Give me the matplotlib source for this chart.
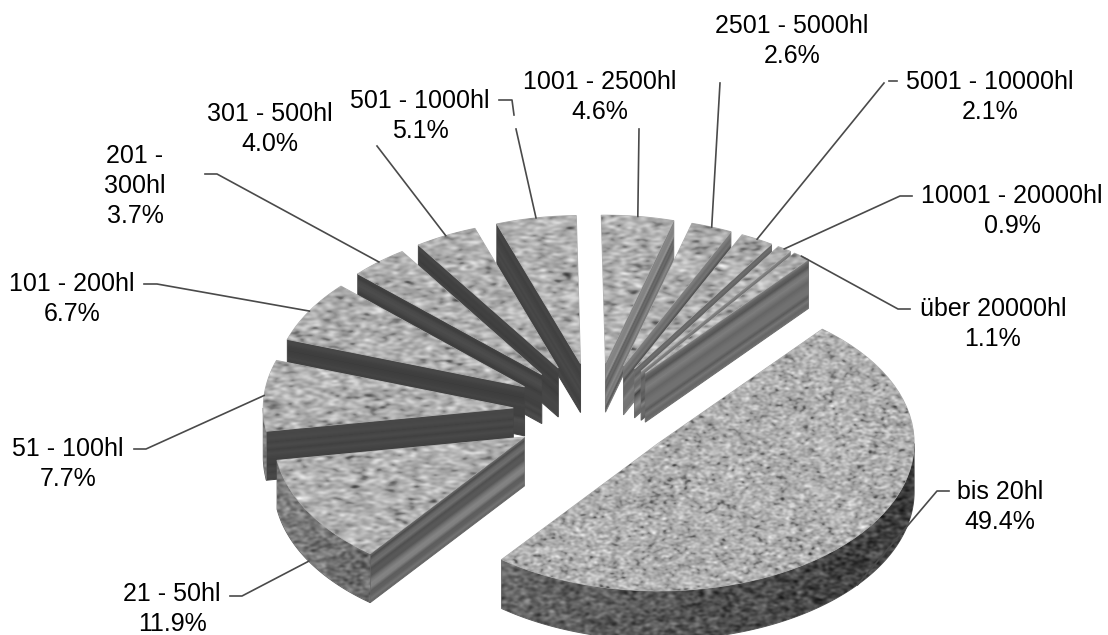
import numpy as np
import matplotlib
matplotlib.use("Agg")
import matplotlib.pyplot as plt
from matplotlib.patches import Polygon

plt.rcParams['font.family'] = ['Liberation Sans', 'DejaVu Sans']

names = ['bis 20hl', '21 - 50hl', '51 - 100hl', '101 - 200hl', '201 -\n300hl', '301 - 500hl',
         '501 - 1000hl', '1001 - 2500hl', '2501 - 5000hl', '5001 - 10000hl',
         '10001 - 20000hl', 'über 20000hl']
shares = [49.4, 11.9, 7.7, 6.7, 3.7, 4.0, 5.1, 4.6, 2.6, 2.1, 0.9, 1.1]

# pie geometry in pixels
W, H = 1108, 635
start_deg = 39.8
cx, cy = 595, 412
explode = 82
squash = 0.6
rx, ry = 253, 148
depth = 49

# label centres and leader elbows, same order as names
nan = float('nan')
label_pos = [(1000, 507), (172, 609), (68, 464), (72, 299), (135, 186), (270, 129),
             (420, 116), (600, 97), (792, 41), (990, 97), (1012, 211), (993, 324)]
elbows = [[(949, 491), (937, 491)], [(230, 596), (242, 596)], [(134, 449), (146, 449)],
          [(144, 284), (157, 284)], [(205, 174), (217, 174)], [(377, 146)],
          [(499, 100), (512, 100), (514, 115), (nan, nan), (516, 129)], [(639, 129)], [(720, 83)],
          [(897, 81), (889, 81), (nan, nan), (884, 83)],
          [(912, 196), (900, 196)], [(910, 309), (898, 309)]]

rng = np.random.default_rng(12)


def blurred_noise(h, w, sx, sy):
    # gaussian smoothing in the frequency domain, scaled back to unit variance
    z = rng.standard_normal((h, w))
    fy = np.fft.fftfreq(h)[:, None]
    fx = np.fft.rfftfreq(w)[None, :]
    kernel = np.exp(-2 * np.pi ** 2 * ((fx * sx) ** 2 + (fy * sy) ** 2))
    out = np.fft.irfft2(np.fft.rfft2(z) * kernel, s=(h, w))
    return out / out.std()


def bounds(pts):
    x0 = int(np.floor(pts[:, 0].min())) - 1
    x1 = int(np.ceil(pts[:, 0].max())) + 1
    y0 = int(np.floor(pts[:, 1].min())) - 1
    y1 = int(np.ceil(pts[:, 1].max())) + 1
    return x0, x1, y0, y1


def draw_textured(ax, pts, img, box, edge):
    poly = Polygon(pts, closed=True, facecolor='none', edgecolor=edge, lw=0.7, zorder=3)
    ax.add_patch(poly)
    x0, x1, y0, y1 = box
    im = ax.imshow(np.clip(img, 0, 255), cmap='gray', vmin=0, vmax=255, extent=(x0, x1, y1, y0),
                   origin='upper', aspect='auto', interpolation='bilinear', zorder=3)
    im.set_clip_path(poly)


def rim(apex, a, b, n=60):
    t = np.radians(np.linspace(a, b, n))
    # slices on the right sit a little nearer and come out slightly wider
    r = rx + 3 * np.sin(np.radians((a + b) / 2))
    return np.column_stack([apex[0] + r * np.sin(t), apex[1] - ry * np.cos(t)])


def flat_wall(ax, apex, tip_deg, span, normal_deg):
    # straight cut face, stripes run along the radial edge
    tip = rim(apex, span[0], span[1], 60)[0 if tip_deg == span[0] else -1]
    pts = np.array([apex, tip, tip + (0, depth), np.array(apex) + (0, depth)])
    x0, x1, y0, y1 = box = bounds(pts)
    xx, yy = np.meshgrid(np.arange(x0, x1) + 0.5, np.arange(y0, y1) + 0.5)
    slope = (tip[1] - apex[1]) / (tip[0] - apex[0])
    t = (yy - (apex[1] + (xx - apex[0]) * slope)) / depth
    lit = max(0.0, np.sin(np.radians(normal_deg)) - 0.14) / 0.82
    base = 68 + 50 * lit
    stripes = rng.standard_normal(14)
    stripes = np.interp(np.clip(t, 0, 1) * 13, np.arange(14), stripes)
    img = base + stripes * (4 + 13 * lit)
    draw_textured(ax, pts, img, box, (base / 255,) * 3)


def outer_wall(ax, apex, a, b):
    lo, hi = max(a, 90), min(b, 270)
    r = rim(apex, a, b, 400)
    angles = np.linspace(a, b, 400)
    top = r[(angles >= lo) & (angles <= hi)]
    pts = np.vstack([top, (top + (0, depth))[::-1]])
    x0, x1, y0, y1 = box = bounds(pts)
    xx = np.arange(x0, x1) + 0.5
    u = (xx - apex[0]) / rx
    shade = np.interp(u, [-1, -0.63, 0, 0.6, 1], [128, 106, 84, 70, 62])
    noise = blurred_noise(y1 - y0, x1 - x0, 1.8, 1.2)
    img = shade[None, :] + noise * 14
    draw_textured(ax, pts, img, box, (0.38, 0.38, 0.38))


def top_face(ax, apex, a, b):
    pts = np.vstack([[apex], rim(apex, a, b)])
    x0, x1, y0, y1 = box = bounds(pts)
    big = (b - a) > 90
    noise = blurred_noise(y1 - y0, x1 - x0, 1.5 if big else 2.6, 1.0 if big else 1.2)
    img = 174 + noise * 16 - 18 * np.clip(-noise - 1.3, 0, None)
    draw_textured(ax, pts, img, box, (0.68, 0.68, 0.68))


fig = plt.figure(figsize=(W / 100, H / 100), dpi=100)
ax = fig.add_axes([0, 0, 1, 1])

fracs = np.array(shares) / sum(shares)
ends = start_deg + 360 * np.cumsum(fracs)
starts = ends - 360 * fracs
mids = (starts + ends) / 2
apexes = np.column_stack([cx + explode * np.sin(np.radians(mids)),
                          cy - explode * squash * np.cos(np.radians(mids))])

# back slices first so nearer ones cover them
for i in np.argsort(-np.cos(np.radians(mids))):
    a, b = starts[i], ends[i]
    apex = apexes[i]
    if np.sin(np.radians(a)) < -0.05:
        flat_wall(ax, apex, a, (a, b), a - 90)
    if np.sin(np.radians(b)) > 0.05:
        flat_wall(ax, apex, b, (a, b), b + 90)
    if a < 270 and b > 90:
        outer_wall(ax, apex, a, b)
    top_face(ax, apex, a, b)

# leaders run from the label to the middle of each slice rim
for i, name in enumerate(names):
    r = rx + 3 * np.sin(np.radians(mids[i]))
    t = np.radians(mids[i])
    anchor = (apexes[i][0] + r * np.sin(t), apexes[i][1] - ry * np.cos(t))
    if 90 < mids[i] % 360 < 270:
        anchor = (anchor[0], anchor[1] + depth)
    line = np.array(elbows[i] + [anchor])
    ax.plot(line[:, 0], line[:, 1], color='#4a4a4a', lw=1.2, zorder=4)
    ax.text(label_pos[i][0], label_pos[i][1], f'{name}\n{shares[i]:.1f}%', ha='center', va='center',
            fontsize=18, color='black', linespacing=1.31, zorder=5)

ax.set_xlim(0, W)
ax.set_ylim(H, 0)
ax.axis('off')
fig.savefig('out.png', dpi=100, facecolor='white')
